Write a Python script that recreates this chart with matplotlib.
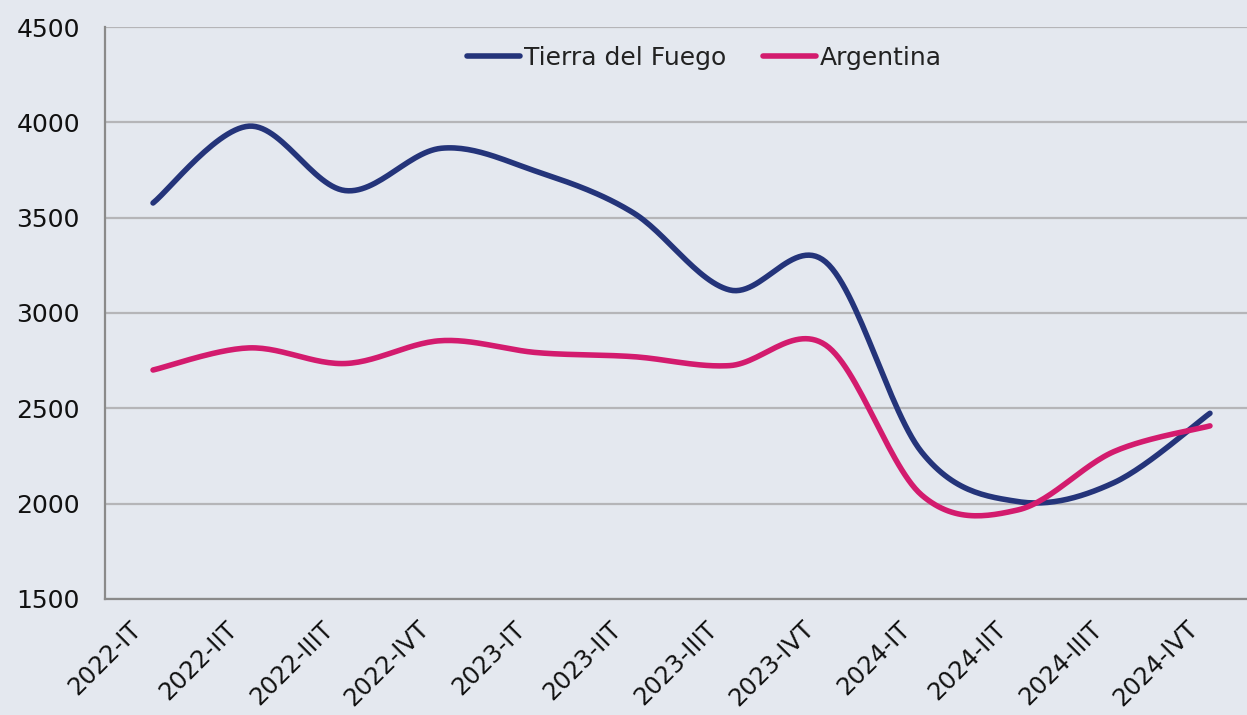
import numpy as np
import matplotlib.pyplot as plt
import matplotlib.transforms as mtransforms

quarters = ["2022-IT", "2022-IIT", "2022-IIIT", "2022-IVT",
            "2023-IT", "2023-IIT", "2023-IIIT", "2023-IVT",
            "2024-IT", "2024-IIT", "2024-IIIT", "2024-IVT"]
tdf = [3577, 3980, 3642, 3864, 3741, 3525, 3121, 3268, 2270, 2011, 2110, 2474]
arg = [2701, 2817, 2735, 2855, 2792, 2771, 2724, 2832, 2045, 1967, 2273, 2408]

bg = "#E4E8EF"
c_tdf = "#24347A"
c_arg = "#D31B6E"


def smooth(xs, ys, n=30):
    # Excel-style smoothed line: cubic Bezier with Catmull-Rom control points
    p = np.column_stack([xs, ys]).astype(float)
    p = np.vstack([p[0], p, p[-1]])
    out = []
    t = np.linspace(0, 1, n)[:, None]
    for i in range(1, len(p) - 2):
        p0, p1, p2, p3 = p[i - 1], p[i], p[i + 1], p[i + 2]
        c1 = p1 + (p2 - p0) / 6
        c2 = p2 - (p3 - p1) / 6
        seg = ((1 - t) ** 3) * p1 + 3 * ((1 - t) ** 2) * t * c1 + 3 * (1 - t) * t ** 2 * c2 + t ** 3 * p2
        out.append(seg if i == 1 else seg[1:])
    s = np.vstack(out)
    return s[:, 0], s[:, 1]


plt.rcParams['font.family'] = ['DejaVu Sans']
fig = plt.figure(figsize=(12.47, 7.15), dpi=100, facecolor=bg)
ax = fig.add_axes([105 / 1247, 116 / 715, 1153 / 1247, 572 / 715])
ax.set_facecolor(bg)

x = np.arange(len(quarters))
sx, sy = smooth(x, tdf)
ax.plot(sx, sy, color=c_tdf, lw=4, solid_capstyle='round', label="Tierra del Fuego")
sx, sy = smooth(x, arg)
ax.plot(sx, sy, color=c_arg, lw=4, solid_capstyle='round', label="Argentina")

ax.set_xlim(-0.5, 11.5)
ax.set_ylim(1500, 4500)
ax.set_yticks(np.arange(1500, 4501, 500))
ax.yaxis.grid(True, color="#B5B5B8", lw=1.6)
ax.set_axisbelow(True)
ax.set_xticks(x)
ax.set_xticklabels(quarters, rotation=45, ha='right', rotation_mode='anchor')
ax.tick_params(axis='both', length=0, colors="#111111")
ax.tick_params(axis='y', pad=18, labelsize=18)
ax.tick_params(axis='x', pad=10, labelsize=17.5)

shift = mtransforms.ScaledTranslation(-24 / 100, -4 / 100, fig.dpi_scale_trans)
for lbl in ax.get_xticklabels():
    lbl.set_transform(lbl.get_transform() + shift)

for s in ['top', 'right']:
    ax.spines[s].set_visible(False)
for s in ['left', 'bottom']:
    ax.spines[s].set_color("#8A8A8A")
    ax.spines[s].set_linewidth(1.6)

leg = ax.legend(loc='center', bbox_to_anchor=(0.52, 0.946), ncol=2, frameon=False,
                fontsize=18, handlelength=2.1, handletextpad=0.15, columnspacing=1.5)
for t in leg.get_texts():
    t.set_color("#222222")

fig.savefig("out.png", dpi=100, facecolor=bg)
